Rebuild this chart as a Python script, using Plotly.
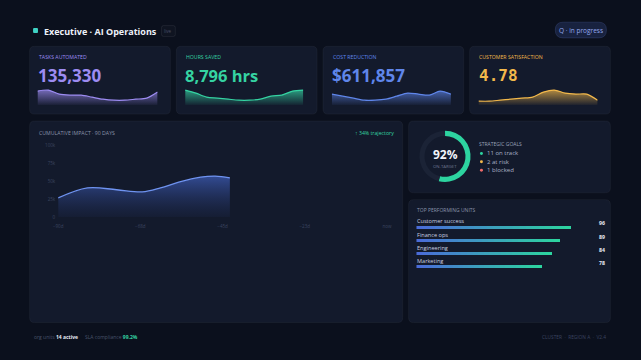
import plotly.graph_objects as go

W, H = 641, 360
FONT = "Open Sans"

# ---------------- data ----------------
kpi_labels = ["TASKS AUTOMATED", "HOURS SAVED", "COST REDUCTION", "CUSTOMER SATISFACTION"]
kpi_values = ["135,330", "8,796 hrs", "$611,857", "4.78"]
kpi_colors = ["#9d8cf2", "#35d3a2", "#5f86ea", "#f2b84b"]
kpi_rgb = ["157,140,242", "53,211,162", "95,134,234", "242,184,75"]
spark_tasks = [14, 15, 11, 10, 10, 8, 6, 5, 5, 6, 7, 13]
spark_hours = [15, 12, 8, 7, 6, 5, 5, 6, 9, 10, 14, 15]
spark_cost = [11, 9, 7, 5, 5, 6, 9, 12, 11, 10, 14, 11]
spark_csat = [4, 4, 5, 6, 7, 8, 13, 15, 12, 11, 11, 5]
sparks = [spark_tasks, spark_hours, spark_cost, spark_csat]

impact_days = [0, 8, 16, 23, 28, 33, 39, 43, 47]
impact_values = [27000, 41000, 38500, 35500, 41000, 49000, 56000, 57500, 55000]
impact_yticks = [0, 25000, 50000, 75000, 100000]
impact_ylabels = ["0", "25k", "50k", "75k", "100k"]
impact_xticks = [0, 22.5, 45, 67.5, 90]
impact_xlabels = ["−90d", "−68d", "−45d", "−23d", "now"]

goal_pct = "92%"
ring_drawn = [54, 46]
goal_items = ["11 on track", "2 at risk", "1 blocked"]
goal_colors = ["#2dd4a0", "#f2b84b", "#ef6b6b"]

units = ["Customer success", "Finance ops", "Engineering", "Marketing"]
unit_scores = [96, 89, 84, 78]

# ---------------- helpers ----------------
def px(x): return x / W
def py(y): return 1 - y / H

def rrect(x0, y0, x1, y1, r, fill, line="rgba(255,255,255,0.045)"):
    X0, X1, Y0, Y1 = px(x0), px(x1), py(y0), py(y1)
    rx, ry = r / W, r / H
    p = (f"M {X0+rx},{Y0} L {X1-rx},{Y0} Q {X1},{Y0} {X1},{Y0-ry} "
         f"L {X1},{Y1+ry} Q {X1},{Y1} {X1-rx},{Y1} L {X0+rx},{Y1} "
         f"Q {X0},{Y1} {X0},{Y1+ry} L {X0},{Y0-ry} Q {X0},{Y0} {X0+rx},{Y0} Z")
    return dict(type="path", path=p, xref="paper", yref="paper",
                fillcolor=fill, line=dict(color=line, width=1), layer="below")

annotations = []
def ann(text, x, y, size, color, xanchor="left", family=FONT, yanchor="middle"):
    annotations.append(dict(text=text, x=px(x), y=py(y), xref="paper", yref="paper",
                            showarrow=False, xanchor=xanchor, yanchor=yanchor, borderpad=0,
                            font=dict(size=size, color=color, family=family)))

shapes = []
fig = go.Figure()
layout_axes = {}

def blank_axis(**kw):
    d = dict(showgrid=False, zeroline=False, showticklabels=False, showline=False,
             ticks="", fixedrange=True)
    d.update(kw)
    return d

CARD = "#131a2c"

# ---------------- header ----------------
shapes.append(rrect(28.5, 25.5, 33.5, 30.5, 1, "#3fd2c4", line="rgba(0,0,0,0)"))
ann("<b>Executive · AI Operations</b>", 39, 28.5, 9, "#eef2fa")
shapes.append(rrect(159, 23, 173, 34, 2, "rgba(255,255,255,0.02)", line="rgba(255,255,255,0.07)"))
ann("live", 166, 28.5, 4.5, "#485069", xanchor="center")
shapes.append(rrect(559, 19.5, 611, 35.5, 8, "#18223f", line="rgba(110,140,230,0.18)"))
ann("Q · in progress", 585, 27.5, 6.5, "#93a8ee", xanchor="center")

# ---------------- KPI cards ----------------
card_x = [(25, 168), (174, 317), (323, 466), (472, 615)]
spark_x = [(33, 155), (183, 303), (332, 453), (481, 602)]
val_size = [17, 16.5, 17, 16]
for i in range(4):
    x0, x1 = card_x[i]
    shapes.append(rrect(x0, 44, x1, 113, 5, CARD))
    ann(kpi_labels[i], x0 + 9, 55, 5.2, kpi_colors[i])
    fam = "DejaVu Sans Mono" if i == 3 else FONT
    ann(f"<b>{kpi_values[i]}</b>", x0 + 8, 74, val_size[i], kpi_colors[i], family=fam)
    n = i + 2
    sx0, sx1 = spark_x[i]
    fig.add_trace(go.Scatter(
        x=list(range(len(sparks[i]))), y=sparks[i], mode="lines",
        line=dict(color=kpi_colors[i], width=1.2, shape="spline", smoothing=0.8),
        fill="tozeroy",
        fillgradient=dict(type="vertical", start=0, stop=15,
                          colorscale=[[0, f"rgba({kpi_rgb[i]},0.03)"], [1, f"rgba({kpi_rgb[i]},0.7)"]]),
        xaxis=f"x{n}", yaxis=f"y{n}", hoverinfo="skip", showlegend=False))
    layout_axes[f"xaxis{n}"] = blank_axis(domain=[px(sx0), px(sx1)], range=[0, 11], anchor=f"y{n}")
    layout_axes[f"yaxis{n}"] = blank_axis(domain=[py(104), py(87)], range=[0, 16.5], anchor=f"x{n}")

# ---------------- main chart ----------------
shapes.append(rrect(25, 120, 404, 325, 5, CARD))
ann("CUMULATIVE IMPACT · 90 DAYS", 34, 132, 5.2, "#8a93ab")
ann("↑ 34% trajectory", 396, 132, 5.2, "#34d3a2", xanchor="right")
fig.add_trace(go.Scatter(
    x=impact_days, y=impact_values, mode="lines",
    line=dict(color="#6f93f0", width=1.3, shape="spline", smoothing=1.0),
    fill="tozeroy",
    fillgradient=dict(type="vertical", start=0, stop=58000,
                      colorscale=[[0, "rgba(40,60,120,0.08)"], [1, "rgba(70,105,210,0.62)"]]),
    xaxis="x", yaxis="y", hoverinfo="skip", showlegend=False))
layout_axes["xaxis"] = dict(domain=[px(54), px(388)], range=[0, 90], anchor="y",
                            showgrid=False, zeroline=False, showline=False,
                            tickvals=impact_xticks, ticktext=impact_xlabels,
                            tickfont=dict(size=4.5, color="#3c4560", family=FONT),
                            ticklabelstandoff=5, ticks="", fixedrange=True)
layout_axes["yaxis"] = dict(domain=[py(218), py(145)], range=[0, 100000], anchor="x",
                            showgrid=False, zeroline=False, showline=False,
                            tickvals=impact_yticks, ticktext=impact_ylabels,
                            tickfont=dict(size=4.5, color="#3c4560", family=FONT),
                            ticklabelstandoff=2, ticks="", fixedrange=True)

# ---------------- goals card ----------------
shapes.append(rrect(410, 120, 615, 193, 5, CARD))
fig.add_trace(go.Pie(
    values=ring_drawn, hole=0.8, sort=False, direction="clockwise", rotation=0,
    marker=dict(colors=["#2dd4a0", "#1b2336"], line=dict(width=0)),
    textinfo="none", hoverinfo="skip", showlegend=False,
    domain=dict(x=[px(421), px(473)], y=[py(182), py(130)])))
ann(f"<b>{goal_pct}</b>", 447, 154, 12, "#f2f5fb", xanchor="center")
ann("ON-TARGET", 447, 166, 4.3, "#6f7892", xanchor="center")
ann("STRATEGIC GOALS", 481, 143, 5.0, "#9aa3b8")
for k, (t, c) in enumerate(zip(goal_items, goal_colors)):
    yy = 153 + k * 8.5
    shapes.append(dict(type="circle", xref="paper", yref="paper",
                       x0=px(482.5), x1=px(485.5), y0=py(yy + 1.5), y1=py(yy - 1.5),
                       fillcolor=c, line=dict(width=0)))
    ann(t, 489, yy, 6, "#a9b1c5")

# ---------------- top performing units ----------------
shapes.append(rrect(410, 200, 615, 325, 5, CARD))
ann("TOP PERFORMING UNITS", 418, 211, 5.0, "#8a93ab")
N = 24
def lerp(a, b, t): return int(round(a + (b - a) * t))
c0, c1 = (74, 108, 216), (45, 212, 160)
for s in range(N):
    t = s / (N - 1)
    col = f"rgb({lerp(c0[0], c1[0], t)},{lerp(c0[1], c1[1], t)},{lerp(c0[2], c1[2], t)})"
    fig.add_trace(go.Bar(
        y=units, x=[v / N for v in unit_scores], orientation="h",
        marker=dict(color=col, line=dict(width=0)), width=0.15,
        xaxis="x6", yaxis="y6", hoverinfo="skip", showlegend=False))
layout_axes["xaxis6"] = blank_axis(domain=[px(418), px(582)], range=[0, 100], anchor="y6")
layout_axes["yaxis6"] = blank_axis(domain=[py(274.7), py(221.5)], anchor="x6",
                                   autorange="reversed", type="category")
for k, (u, v) in enumerate(zip(units, unit_scores)):
    yb = 228.2 + k * 13.3
    ann(u, 418, yb - 6, 5.6, "#c9d0e0")
    ann(f"<b>{v}</b>", 606, yb - 4, 5.2, "#e8ecf5", xanchor="center")

# ---------------- footer ----------------
ann("org units <span style='color:#e8ecf5'><b>14 active</b></span>", 28, 340, 5.0, "#4a536b")
ann("SLA compliance <span style='color:#34d3a2'><b>99.2%</b></span>", 80, 340, 5.0, "#4a536b")
ann("CLUSTER  ·  REGION A  ·  V2.4", 612, 340, 4.8, "#3b4460", xanchor="right")

fig.update_layout(
    width=W, height=H, margin=dict(l=0, r=0, t=0, b=0),
    paper_bgcolor="#0b101d", plot_bgcolor="rgba(0,0,0,0)",
    barmode="stack", bargap=0, showlegend=False,
    shapes=shapes, annotations=annotations, **layout_axes)

fig.write_html("out.html", config={"displayModeBar": False})
